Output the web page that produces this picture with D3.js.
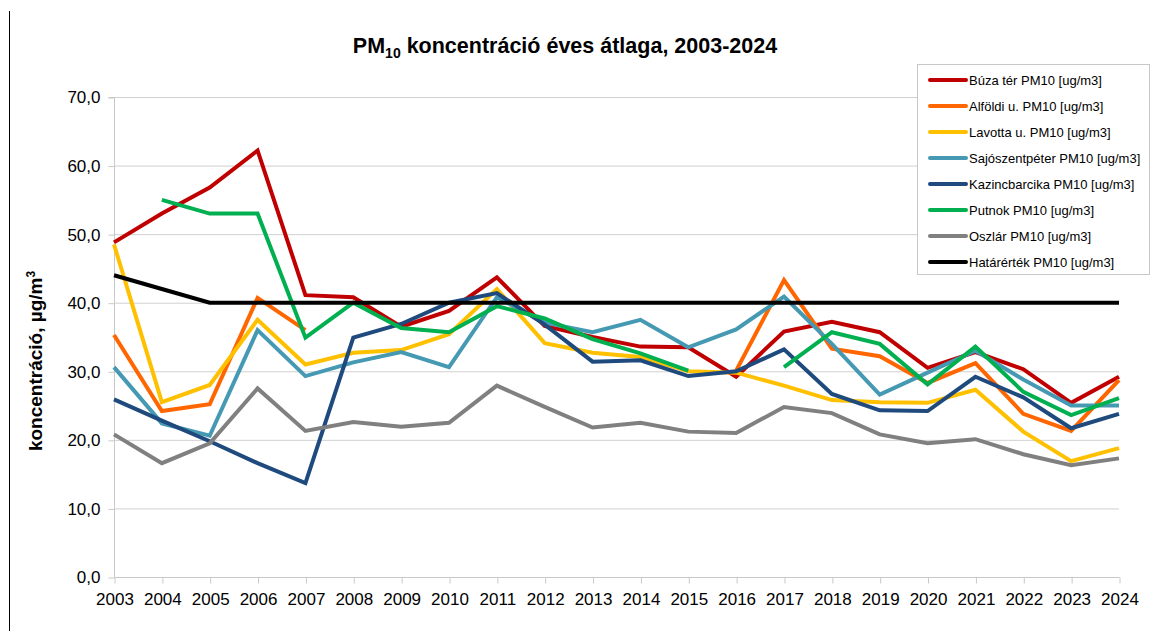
<!DOCTYPE html>
<html>
<head>
<meta charset="utf-8">
<script src="https://cdn.jsdelivr.net/npm/d3@7"></script>
<style>
  body { margin: 0; background: #fff; }
  svg { font-family: "Liberation Sans", Arial, sans-serif; }
</style>
</head>
<body>
<svg id="chart" width="1155" height="631"></svg>
<script>
const years = d3.range(2003, 2025);
const yTicks = [0, 10, 20, 30, 40, 50, 60, 70];

const buza = [48.8, 53.0, 56.8, 62.2, 41.1, 40.8, 36.5, 38.8, 43.7, 36.6, 35.0, 33.6, 33.5, 29.2, 35.8, 37.2, 35.7, 30.5, 32.8, 30.3, 25.4, 29.2];
const alfoldi = [35.3, 24.2, 25.2, 40.7, 36.0, null, null, null, null, null, null, null, null, 30.1, 43.3, 33.3, 32.2, 28.3, 31.2, 23.8, 21.3, 28.7];
const lavotta = [48.5, 25.5, 28.0, 37.5, 31.0, 32.7, 33.1, 35.4, 42.0, 34.1, 32.7, 32.1, 30.0, 29.8, 27.9, 25.8, 25.5, 25.4, 27.3, 21.2, 16.9, 18.8];
const sajo = [30.6, 22.4, 20.6, 36.0, 29.3, 31.3, 32.8, 30.6, 40.8, 37.1, 35.7, 37.5, 33.5, 36.1, 40.9, 34.0, 26.6, 29.8, 33.0, 28.8, 25.0, 25.0];
const kazinc = [25.9, 22.8, 19.8, 16.6, 13.7, 34.9, 36.9, 40.0, 41.4, 36.8, 31.4, 31.6, 29.3, 30.0, 33.2, 26.7, 24.3, 24.2, 29.2, 26.2, 21.7, 23.8];
const putnok = [null, 55.0, 53.0, 53.0, 34.9, 40.0, 36.3, 35.7, 39.5, 37.7, 34.7, 32.6, 30.1, null, 30.6, 35.7, 34.0, 28.1, 33.6, 27.0, 23.6, 26.1];
const oszlar = [20.8, 16.6, 19.5, 27.5, 21.3, 22.6, 21.9, 22.5, 27.9, 24.8, 21.8, 22.5, 21.2, 21.0, 24.8, 23.9, 20.8, 19.5, 20.1, 17.9, 16.3, 17.3];
const hatar = [44.0, 42.0, 40, 40, 40, 40, 40, 40, 40, 40, 40, 40, 40, 40, 40, 40, 40, 40, 40, 40, 40, 40];

const seriesNames = [
  "Búza tér PM10 [ug/m3]", "Alföldi u. PM10 [ug/m3]", "Lavotta u. PM10 [ug/m3]",
  "Sajószentpéter PM10 [ug/m3]", "Kazincbarcika PM10 [ug/m3]", "Putnok PM10 [ug/m3]",
  "Oszlár PM10 [ug/m3]", "Határérték PM10 [ug/m3]"
];
const seriesColors = ["#c00000", "#ff6600", "#ffc000", "#4599b2", "#1f4a7e", "#00b050", "#808080", "#000000"];
const seriesValues = [buza, alfoldi, lavotta, sajo, kazinc, putnok, oszlar, hatar];

const series = seriesNames.map((name, i) => ({ name, color: seriesColors[i], values: seriesValues[i] }));

const svg = d3.select("#chart");

// left frame line
svg.append("line")
  .attr("x1", 9.5).attr("x2", 9.5).attr("y1", 11).attr("y2", 631)
  .attr("stroke", "#000").attr("stroke-width", 1);

const x = d3.scaleLinear().domain([2003, 2024]).range([114, 1119]);
const y = d3.scaleLinear().domain([0, 70]).range([577, 97]);

// gridlines
svg.append("g")
  .selectAll("line")
  .data(yTicks.slice(1))
  .join("line")
  .attr("x1", x(2003)).attr("x2", x(2024))
  .attr("y1", d => y(d) + 0.5).attr("y2", d => y(d) + 0.5)
  .attr("stroke", "#d0d0d0").attr("stroke-width", 1);

// y axis
const yAxis = svg.append("g")
  .attr("transform", `translate(${x(2003) + 0.5},0.5)`)
  .call(d3.axisLeft(y).tickValues(yTicks).tickSize(6).tickPadding(8)
    .tickFormat(d => d3.format(".1f")(d).replace(".", ",")));
yAxis.select(".domain").attr("stroke", "#c8c8c8").attr("d", `M-6,${y(70)}H0V${y(0)}`);
yAxis.selectAll(".tick line").attr("stroke", "#c8c8c8");
yAxis.selectAll(".tick text").attr("font-size", 17).attr("fill", "#000")
  .attr("font-family", "Liberation Sans, Arial, sans-serif");

// x axis
const xAxis = svg.append("g")
  .attr("transform", `translate(0.5,${y(0) + 0.5})`)
  .call(d3.axisBottom(x).tickValues(years).tickSize(6).tickPadding(9).tickFormat(d3.format("d")));
xAxis.select(".domain").attr("stroke", "#c8c8c8").attr("d", `M${x(2003)},0H${x(2024)}`);
xAxis.selectAll(".tick line").attr("stroke", "#c8c8c8");
xAxis.selectAll(".tick text").attr("font-size", 17).attr("fill", "#000")
  .attr("font-family", "Liberation Sans, Arial, sans-serif");

// lines
const line = d3.line()
  .defined(d => d != null)
  .x((d, i) => x(years[i]))
  .y(d => y(d));

svg.append("g")
  .selectAll("path")
  .data(series)
  .join("path")
  .attr("d", s => line(s.values))
  .attr("fill", "none")
  .attr("stroke", s => s.color)
  .attr("stroke-width", 4)
  .attr("stroke-linejoin", "miter")
  .attr("stroke-linecap", "butt");

// title
const title = svg.append("text")
  .attr("x", 565).attr("y", 53)
  .attr("text-anchor", "middle")
  .attr("font-size", 21.5).attr("font-weight", "bold");
title.append("tspan").text("PM");
title.append("tspan").attr("font-size", 14).attr("dy", 5).text("10");
title.append("tspan").attr("dy", -5).text(" koncentráció éves átlaga, 2003-2024");

// y label
const yl = svg.append("text")
  .attr("transform", "translate(42,361) rotate(-90)")
  .attr("text-anchor", "middle")
  .attr("font-size", 19).attr("font-weight", "bold");
yl.append("tspan").text("koncentráció, µg/m");
yl.append("tspan").attr("font-size", 12).attr("dy", -7).text("3");

// legend
const legend = svg.append("g");
legend.append("rect")
  .attr("x", 917.5).attr("y", 64.5).attr("width", 232).attr("height", 210)
  .attr("fill", "#fff").attr("stroke", "#c8c8c8");

const li = legend.selectAll("g.item")
  .data(series)
  .join("g")
  .attr("class", "item")
  .attr("transform", (d, i) => `translate(0,${80 + i * 26})`);
li.append("line")
  .attr("x1", 930).attr("x2", 966).attr("y1", 0).attr("y2", 0)
  .attr("stroke", d => d.color).attr("stroke-width", 4).attr("stroke-linecap", "round");
li.append("text")
  .attr("x", 969).attr("y", 4.5)
  .attr("font-size", 13)
  .text(d => d.name);
</script>
</body>
</html>
